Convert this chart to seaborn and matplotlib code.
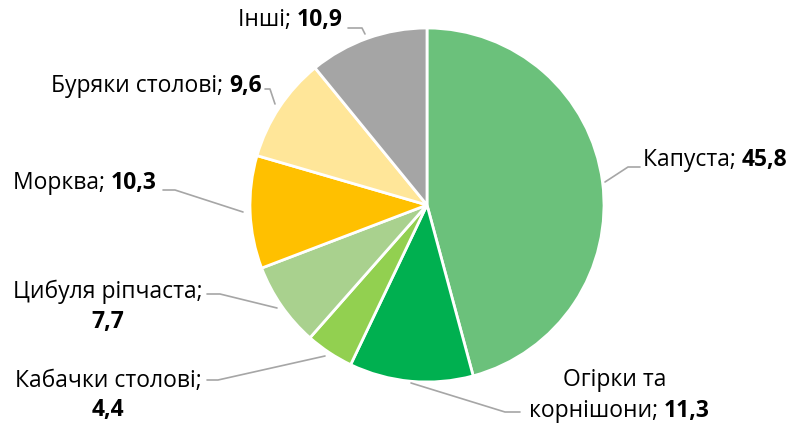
import seaborn as sns
import matplotlib.pyplot as plt

# Data
labels = ['Капуста', 'Огірки та\nкорнішони', 'Кабачки столові', 'Цибуля ріпчаста',
          'Морква', 'Буряки столові', 'Інші']
values = [45.8, 11.3, 4.4, 7.7, 10.3, 9.6, 10.9]
colors = ['#6BC17B', '#00B050', '#92D050', '#A9D18E', '#FFC000', '#FFE699', '#A5A5A5']

sns.set_theme(style='white')
plt.rcParams['font.family'] = ['Open Sans', 'DejaVu Sans']
plt.rcParams['text.color'] = 'black'

W, H = 793, 427
fig = plt.figure(figsize=(W / 100, H / 100), dpi=100)
ax = fig.add_axes([0, 0, 1, 1])

cx, cy, r = 427, H - 206, 177
ax.pie(values, colors=sns.color_palette(colors), startangle=90, counterclock=False,
       center=(cx, cy), radius=r, frame=True,
       wedgeprops=dict(edgecolor='white', linewidth=2))
ax.set_xlim(0, W)
ax.set_ylim(0, H)
ax.axis('off')

fs = 16.5
lc = '#A6A6A6'


def py(y):
    return H - y


def fmt(v):
    return f'{v:.1f}'.replace('.', ',')


def leader(pts):
    ax.plot([p[0] for p in pts], [py(p[1]) for p in pts], color=lc, lw=1.2)


def two_part(x, y, a, b, align='left'):
    # name in regular weight followed by the value in bold
    fig.canvas.draw()
    if align == 'left':
        t1 = ax.text(x, py(y), a, ha='left', va='center', fontsize=fs)
        fig.canvas.draw()
        x1 = ax.transData.inverted().transform((t1.get_window_extent().x1, 0))[0]
        ax.text(x1, py(y), b, ha='left', va='center', fontsize=fs, fontweight='bold')
    else:
        t2 = ax.text(x, py(y), b, ha='right', va='center', fontsize=fs, fontweight='bold')
        fig.canvas.draw()
        x0 = ax.transData.inverted().transform((t2.get_window_extent().x0, 0))[0]
        ax.text(x0, py(y), a, ha='right', va='center', fontsize=fs)


# Капуста
leader([(605, 183), (628, 168), (640, 168)])
two_part(643, 160, labels[0] + '; ', fmt(values[0]))

# Огірки та корнішони
leader([(411, 384), (505, 413), (520, 413)])
ax.text(615, py(380), 'Огірки та', ha='center', va='center', fontsize=fs)
two_part(710, 411, 'корнішони; ', fmt(values[1]), align='right')

# Кабачки столові
leader([(325, 357), (218, 381), (207, 381)])
ax.text(108, py(381), labels[2] + ';', ha='center', va='center', fontsize=fs)
ax.text(108, py(410), fmt(values[2]), ha='center', va='center', fontsize=fs, fontweight='bold')

# Цибуля ріпчаста
leader([(277, 309), (220, 295), (207, 295)])
ax.text(108, py(292), labels[3] + ';', ha='center', va='center', fontsize=fs)
ax.text(108, py(322), fmt(values[3]), ha='center', va='center', fontsize=fs, fontweight='bold')

# Морква
leader([(243, 213), (175, 191), (163, 191)])
two_part(157, 183, labels[4] + '; ', fmt(values[4]), align='right')

# Буряки столові
leader([(275, 105), (270, 90), (265, 90)])
two_part(262, 86, labels[5] + '; ', fmt(values[5]), align='right')

# Інші
leader([(365, 35), (362, 29), (348, 29)])
two_part(343, 20, labels[6] + '; ', fmt(values[6]), align='right')

fig.savefig('out.png', dpi=100)
